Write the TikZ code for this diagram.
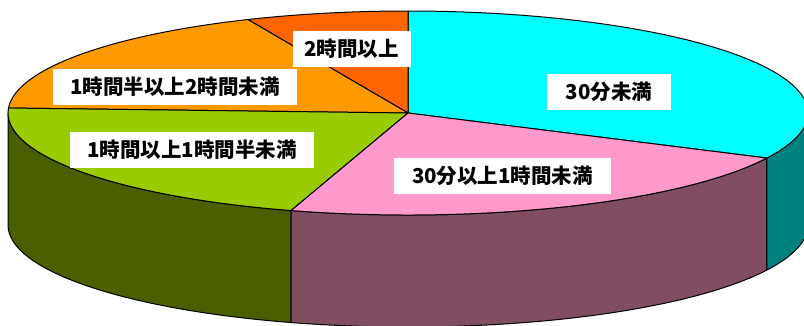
\documentclass[tikz,border=0pt]{standalone}
\usepackage{fontspec}
\usetikzlibrary{calc}
\newfontfamily\jpfont{Noto Sans CJK JP}
\definecolor{cyanT}{HTML}{00FFFF}
\definecolor{pinkT}{HTML}{FF99CC}
\definecolor{greenT}{HTML}{99CC00}
\definecolor{orangeT}{HTML}{FF9900}
\definecolor{redT}{HTML}{FF6600}
\definecolor{cyanS}{HTML}{008080}
\definecolor{pinkS}{HTML}{804D63}
\definecolor{greenS}{HTML}{4A6000}
\tikzset{
  slice/.style={draw=black, line width=1pt, line join=round},
  lbl/.style={fill=white, inner xsep=0pt, inner ysep=0pt, minimum height=36pt, text=black, font=\jpfont\bfseries\fontsize{20.5}{21}\selectfont},
}
\begin{document}
\begin{tikzpicture}[x=1pt,y=1pt]
\useasboundingbox (0,0) rectangle (804,325);
\clip (0,0) rectangle (804,325);
\coordinate (c) at (408,212);
% side walls
\draw[slice, fill=greenS] ($(c)+(180:400pt and 102pt)$) arc[start angle=180, end angle=253, x radius=400pt, y radius=102pt] -- ++(0,-112pt) arc[start angle=253, end angle=180, x radius=400pt, y radius=102pt] -- cycle;
\draw[slice, fill=pinkS] ($(c)+(253:400pt and 102pt)$) arc[start angle=253, end angle=333.8, x radius=400pt, y radius=102pt] -- ++(0,-112pt) arc[start angle=333.8, end angle=253, x radius=400pt, y radius=102pt] -- cycle;
\draw[slice, fill=cyanS] ($(c)+(333.8:400pt and 102pt)$) arc[start angle=333.8, end angle=360, x radius=400pt, y radius=102pt] -- ++(0,-112pt) arc[start angle=360, end angle=333.8, x radius=400pt, y radius=102pt] -- cycle;
% top slices
\draw[slice, fill=cyanT] (c) -- ($(c)+(-26.2:400pt and 102pt)$) arc[start angle=-26.2, end angle=90, x radius=400pt, y radius=102pt] -- cycle;
\draw[slice, fill=redT] (c) -- ($(c)+(90:400pt and 102pt)$) arc[start angle=90, end angle=113.6, x radius=400pt, y radius=102pt] -- cycle;
\draw[slice, fill=orangeT] (c) -- ($(c)+(113.6:400pt and 102pt)$) arc[start angle=113.6, end angle=177.2, x radius=400pt, y radius=102pt] -- cycle;
\draw[slice, fill=greenT] (c) -- ($(c)+(177.2:400pt and 102pt)$) arc[start angle=177.2, end angle=253, x radius=400pt, y radius=102pt] -- cycle;
\draw[slice, fill=pinkT] (c) -- ($(c)+(253:400pt and 102pt)$) arc[start angle=253, end angle=333.8, x radius=400pt, y radius=102pt] -- cycle;
% labels
\node[lbl, minimum width=118pt] (l1) at (351.5,276.5) {2時間以上};
\node[lbl, minimum width=244pt] (l2) at (175,238.5) {1時間半以上2時間未満};
\node[lbl, minimum width=244pt] (l3) at (192,175) {1時間以上1時間半未満};
\node[lbl, minimum width=124pt] (l4) at (609,233.5) {30分未満};
\node[lbl, minimum width=217pt] (l5) at (502.5,149) {30分以上1時間未満};
\end{tikzpicture}
\end{document}
